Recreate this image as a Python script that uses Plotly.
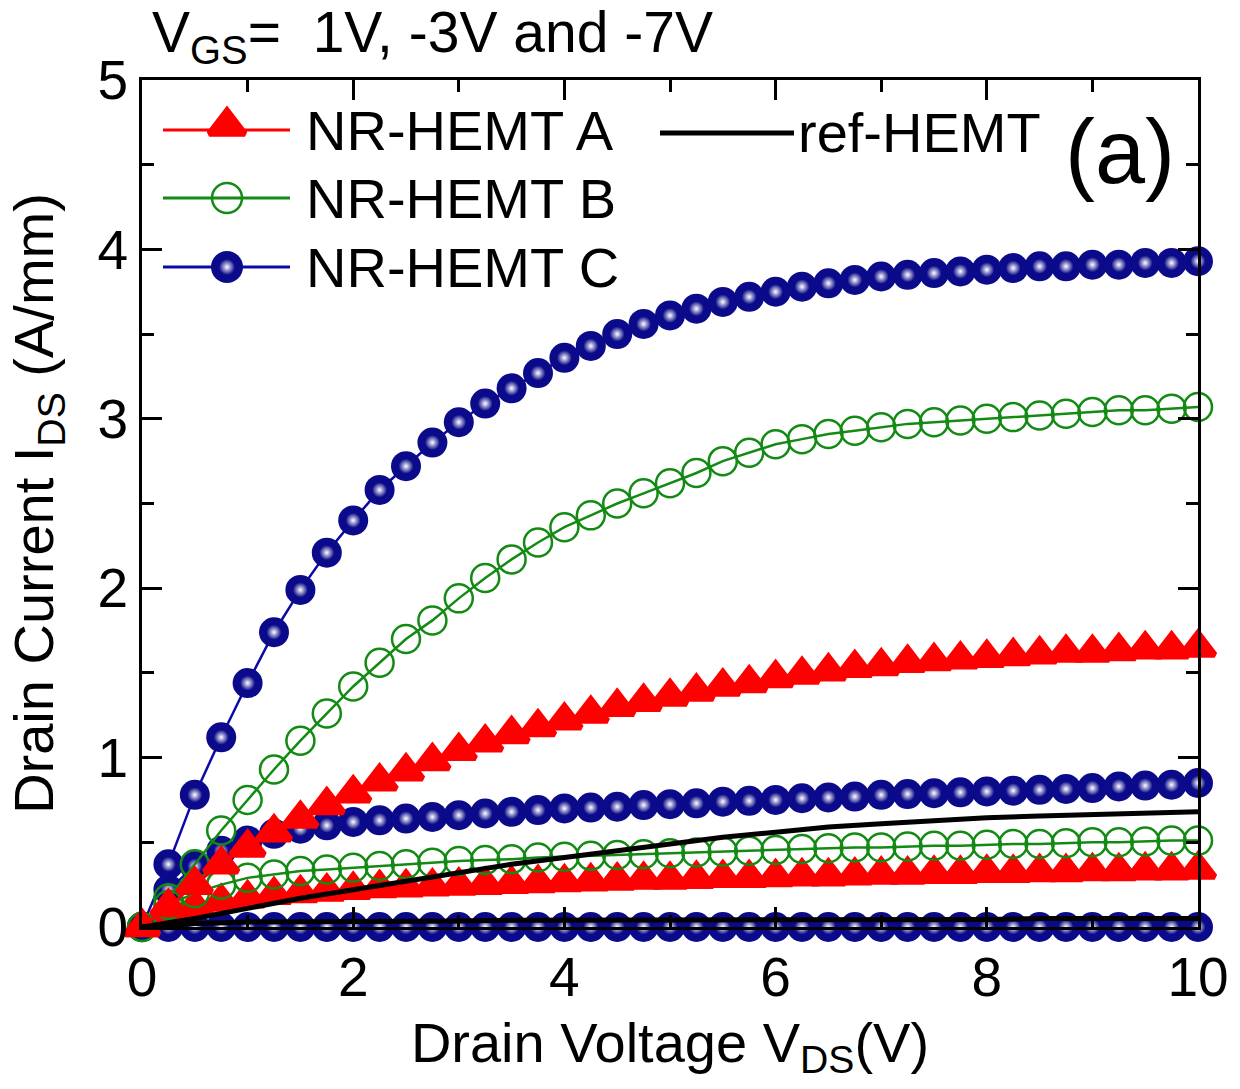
import plotly.graph_objects as go

# ---------------- data ----------------
vds = [0.0, 0.25, 0.5, 0.75, 1.0, 1.25, 1.5, 1.75, 2.0, 2.25, 2.5, 2.75, 3.0, 3.25,
       3.5, 3.75, 4.0, 4.25, 4.5, 4.75, 5.0, 5.25, 5.5, 5.75, 6.0, 6.25, 6.5, 6.75,
       7.0, 7.25, 7.5, 7.75, 8.0, 8.25, 8.5, 8.75, 9.0, 9.25, 9.5, 9.75, 10.0]

# NR-HEMT C
c_1v = [0.0, 0.37, 0.78, 1.12, 1.44, 1.74, 1.99, 2.21, 2.40, 2.58, 2.72, 2.86, 2.98, 3.09,
        3.18, 3.27, 3.36, 3.43, 3.50, 3.56, 3.61, 3.65, 3.69, 3.72, 3.75, 3.78, 3.80, 3.82,
        3.84, 3.85, 3.86, 3.87, 3.88, 3.89, 3.90, 3.90, 3.91, 3.91, 3.92, 3.92, 3.93]
c_m3v = [0.0, 0.22, 0.36, 0.45, 0.51, 0.55, 0.58, 0.60, 0.62, 0.63, 0.64, 0.65, 0.66, 0.67,
         0.68, 0.69, 0.70, 0.705, 0.71, 0.72, 0.725, 0.73, 0.74, 0.745, 0.75, 0.76, 0.765, 0.77,
         0.78, 0.785, 0.79, 0.795, 0.80, 0.805, 0.81, 0.815, 0.82, 0.83, 0.835, 0.84, 0.85]
c_m7v = [0.0, 0.0, 0.0, 0.0, 0.0, 0.0, 0.0, 0.0, 0.0, 0.0, 0.0, 0.0, 0.0, 0.0,
         0.0, 0.0, 0.0, 0.0, 0.0, 0.0, 0.0, 0.0, 0.0, 0.0, 0.0, 0.0, 0.0, 0.0,
         0.0, 0.0, 0.0, 0.0, 0.0, 0.0, 0.0, 0.0, 0.0, 0.0, 0.0, 0.0, 0.0]

# NR-HEMT B
b_1v = [0.0, 0.17, 0.37, 0.57, 0.75, 0.93, 1.10, 1.26, 1.42, 1.56, 1.70, 1.81, 1.94, 2.06,
        2.17, 2.27, 2.36, 2.43, 2.50, 2.56, 2.62, 2.68, 2.75, 2.80, 2.85, 2.88, 2.91, 2.93,
        2.95, 2.97, 2.98, 2.99, 3.00, 3.01, 3.02, 3.03, 3.04, 3.05, 3.05, 3.06, 3.07]
b_m3v = [0.0, 0.13, 0.20, 0.25, 0.29, 0.31, 0.33, 0.34, 0.35, 0.36, 0.37, 0.38, 0.39, 0.395,
         0.40, 0.41, 0.415, 0.42, 0.425, 0.43, 0.435, 0.44, 0.445, 0.45, 0.455, 0.46, 0.465, 0.47,
         0.47, 0.475, 0.48, 0.48, 0.485, 0.49, 0.49, 0.495, 0.50, 0.50, 0.505, 0.51, 0.51]

# NR-HEMT A
a_1v = [0.0, 0.12, 0.25, 0.37, 0.47, 0.56, 0.64, 0.72, 0.79, 0.86, 0.92, 0.98, 1.04, 1.09,
        1.14, 1.18, 1.22, 1.26, 1.30, 1.33, 1.36, 1.39, 1.42, 1.44, 1.47, 1.49, 1.51, 1.53,
        1.54, 1.56, 1.57, 1.58, 1.59, 1.60, 1.61, 1.62, 1.62, 1.63, 1.64, 1.64, 1.65]
a_m3v = [0.0, 0.07, 0.12, 0.15, 0.17, 0.19, 0.20, 0.21, 0.22, 0.23, 0.235, 0.24, 0.245, 0.25,
         0.255, 0.26, 0.265, 0.27, 0.275, 0.28, 0.28, 0.285, 0.29, 0.29, 0.295, 0.30, 0.30, 0.305,
         0.31, 0.31, 0.315, 0.315, 0.32, 0.32, 0.325, 0.325, 0.33, 0.33, 0.335, 0.335, 0.34]

# ref-HEMT
ref_vds = [0.0, 0.5, 1.0, 1.5, 2.0, 2.5, 3.0, 3.5, 4.0, 4.5, 5.0, 5.5, 6.0, 6.5, 7.0,
           7.5, 8.0, 8.5, 9.0, 9.5, 10.0]
ref_1v = [0.0, 0.05, 0.11, 0.17, 0.22, 0.27, 0.32, 0.37, 0.41, 0.45, 0.49, 0.53, 0.56,
          0.59, 0.61, 0.63, 0.645, 0.655, 0.665, 0.675, 0.68]
ref_m3v = [0.0, 0.02, 0.03, 0.03, 0.035, 0.035, 0.035, 0.04, 0.04, 0.04, 0.04, 0.04, 0.045,
           0.045, 0.045, 0.045, 0.045, 0.05, 0.05, 0.05, 0.05]

series_names = ["NR-HEMT A", "NR-HEMT B", "NR-HEMT C", "ref-HEMT"]
title_text = "V<sub>GS</sub>=&nbsp;&nbsp;1V, -3V and -7V"
panel_label = "(a)"
x_title = "Drain Voltage V<sub>DS</sub>(V)"
y_title = "Drain Current I<sub>DS</sub> (A/mm)"

# ---------------- styles ----------------
FONT = "Liberation Sans, Arial, Helvetica, sans-serif"
BLUE = "#0a0a8a"
BLUE_LINE = "#0a0aa8"
GREEN = "#138a13"
RED = "#ff0000"
BLACK = "#000000"
W, H = 1240, 1089
ML, MR, MT, MB = 142, 42, 80, 162
PW, PH = W - ML - MR, H - MT - MB

C_SIZE, C_HL = 30, 15
B_SIZE = 28
A_SIZE, A_LW = 29, 6

fig = go.Figure()


def scatter(xs, y, xa="x", ya="y", **kw):
    fig.add_trace(go.Scatter(x=xs, y=y, xaxis=xa, yaxis=ya, cliponaxis=False,
                             showlegend=False, hoverinfo="skip", **kw))


def add_c(y, xs=vds, xa="x", ya="y", size=C_SIZE, hl=C_HL, line=True):
    scatter(xs, y, xa, ya, mode="lines+markers" if line else "markers",
            line=dict(color=BLUE_LINE, width=2.5),
            marker=dict(symbol="circle", size=size, color=BLUE, line=dict(width=0)))
    scatter(xs, y, xa, ya, mode="markers",
            marker=dict(symbol="circle", size=hl, color=BLUE,
                        gradient=dict(type="radial", color="#ffffff"), line=dict(width=0)))


def add_b(y, xs=vds, xa="x", ya="y", size=B_SIZE, line=True):
    scatter(xs, y, xa, ya, mode="lines+markers" if line else "markers",
            line=dict(color=GREEN, width=2.5),
            marker=dict(symbol="circle-open", size=size, color=GREEN,
                        line=dict(width=2.5, color=GREEN)))


def add_a(y, xs=vds, xa="x", ya="y", size=A_SIZE, line=True):
    scatter(xs, y, xa, ya, mode="lines+markers" if line else "markers",
            line=dict(color=RED, width=2.5),
            marker=dict(symbol="triangle-up", size=size, color=RED,
                        line=dict(width=A_LW, color=RED)))


def add_ref(y, xs=ref_vds, xa="x", ya="y"):
    scatter(xs, y, xa, ya, mode="lines", line=dict(color=BLACK, width=5))


# drawing order (bottom -> top)
add_c(c_m7v)
add_c(c_m3v)
add_a(a_m3v)
add_b(b_m3v)
add_c(c_1v)
add_b(b_1v)
add_a(a_1v)
add_ref(ref_m3v)
add_ref(ref_1v)

# ---------------- custom legend (on a hidden 0..1 overlay axis) ----------------
def fx(px):
    return (px - ML) / PW


def fy(py):
    return (MT + PH - py) / PH


leg_rows = [130, 198, 267]
leg_line = (163, 290)
leg_mark_x = 227
leg_text_x = 304
leg_colors = [RED, GREEN, BLUE_LINE]
for name, row, col in zip(series_names[:3], leg_rows, leg_colors):
    scatter([fx(leg_line[0]), fx(leg_line[1])], [fy(row), fy(row)], "x2", "y2",
            mode="lines", line=dict(color=col, width=3))
    if name.endswith("A"):
        add_a([fy(row - 4)], xs=[fx(leg_mark_x)], xa="x2", ya="y2", size=31, line=False)
    elif name.endswith("B"):
        add_b([fy(row)], xs=[fx(leg_mark_x)], xa="x2", ya="y2", size=30, line=False)
    else:
        add_c([fy(row)], xs=[fx(leg_mark_x)], xa="x2", ya="y2", size=32, hl=16, line=False)
    fig.add_annotation(x=fx(leg_text_x), y=fy(row), xref="paper", yref="paper",
                       text=name, showarrow=False, xanchor="left", yanchor="middle",
                       font=dict(family=FONT, size=56, color=BLACK))

ref_row = 133
scatter([fx(660), fx(794)], [fy(ref_row), fy(ref_row)], "x2", "y2",
        mode="lines", line=dict(color=BLACK, width=5))
fig.add_annotation(x=fx(796), y=fy(ref_row), xref="paper", yref="paper",
                   text=series_names[3], showarrow=False, xanchor="left", yanchor="middle",
                   font=dict(family=FONT, size=56, color=BLACK))

# panel label and top title
fig.add_annotation(x=fx(1120), y=fy(152), xref="paper", yref="paper", text=panel_label,
                   showarrow=False, xanchor="center", yanchor="middle",
                   font=dict(family=FONT, size=90, color=BLACK))
fig.add_annotation(x=fx(150), y=fy(36), xref="paper", yref="paper", text=title_text,
                   showarrow=False, xanchor="left", yanchor="middle",
                   font=dict(family=FONT, size=57, color=BLACK))

axis_common = dict(showline=True, linewidth=3, linecolor=BLACK, mirror="ticks",
                   ticks="inside", ticklen=20, tickwidth=3, tickcolor=BLACK,
                   showgrid=False, zeroline=False,
                   tickfont=dict(family=FONT, size=55, color=BLACK))

fig.update_layout(
    width=W, height=H,
    margin=dict(l=ML, r=MR, t=MT, b=MB),
    paper_bgcolor="white", plot_bgcolor="white",
    showlegend=False,
    font=dict(family=FONT, color=BLACK),
    xaxis=dict(range=[0, 10], tick0=0, dtick=2,
               minor=dict(dtick=1, ticks="inside", ticklen=12, tickwidth=3, tickcolor=BLACK),
               title=dict(text=x_title, font=dict(family=FONT, size=56, color=BLACK), standoff=16),
               **axis_common),
    yaxis=dict(range=[0, 5], tick0=0, dtick=1,
               minor=dict(dtick=0.5, ticks="inside", ticklen=12, tickwidth=3, tickcolor=BLACK),
               title=dict(text=y_title, font=dict(family=FONT, size=56, color=BLACK), standoff=26),
               **axis_common),
    xaxis2=dict(range=[0, 1], overlaying="x", anchor="y2", visible=False, fixedrange=True),
    yaxis2=dict(range=[0, 1], overlaying="y", anchor="x2", visible=False, fixedrange=True),
)

fig.write_html("out.html")
